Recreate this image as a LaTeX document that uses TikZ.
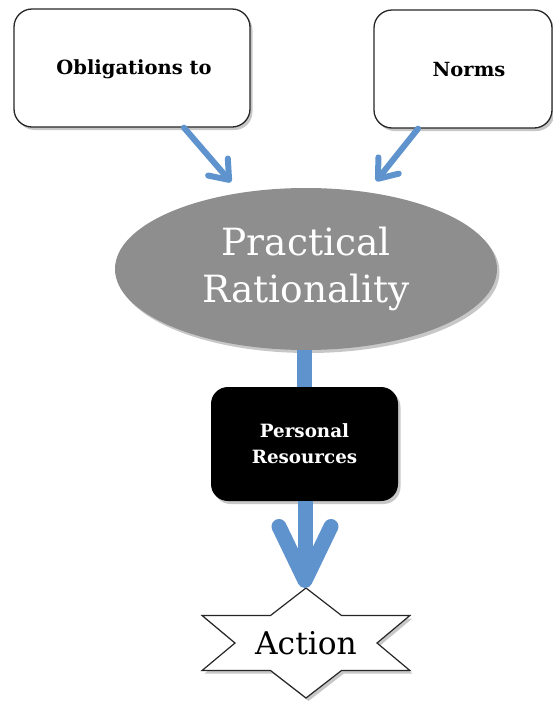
\documentclass[tikz,border=0pt]{standalone}
\usepackage{fontspec}
\setmainfont{DejaVu Serif}
\usetikzlibrary{shapes.geometric,arrows.meta,shadows}
\definecolor{flow}{HTML}{5E93CD}
\definecolor{core}{HTML}{8E8E8E}
\begin{document}
\begin{tikzpicture}[x=1pt,y=-1pt,
  softshadow/.style={drop shadow={shadow xshift=2.5pt,shadow yshift=-3pt,opacity=0.22,fill=black}},
  card/.style={draw=black!85,line width=1.3pt,rounded corners=18pt,fill=white,
    minimum height=118pt,inner sep=0pt,softshadow},
  cardtext/.style={font=\bfseries\fontsize{19.5}{23}\selectfont},
  hub/.style={ellipse,fill=core,minimum width=382pt,minimum height=162pt,inner sep=0pt,
    softshadow,text=white,align=center,font=\fontsize{37.5}{47}\selectfont},
  darkcard/.style={fill=black,rounded corners=17pt,minimum width=187pt,minimum height=114pt,
    inner sep=0pt,softshadow,text=white,align=center,
    font=\bfseries\fontsize{18.3}{26}\selectfont},
  starline/.style={draw=black!85,line width=1.2pt,fill=white,line join=miter,softshadow},
  thinflow/.style={draw=flow,line width=6pt,line cap=round,shorten >=14pt,
    -{Straight Barb[length=17pt,width=26pt,line cap=round,line join=round]}},
  stem/.style={draw=flow,line width=15pt},
  bigflow/.style={draw=flow,line width=15pt,
    -{Straight Barb[length=54pt,width=52pt,line cap=round,line join=round]}}
]
\useasboundingbox (0,0) rectangle (553,702);

% input boxes
\node[card,minimum width=236pt] (ob) at (132,68) {};
\node[cardtext] at (134,69) {Obligations to};
\node[card,minimum width=178pt] (nm) at (463,69) {};
\node[cardtext] at (469,70) {Norms};

% central ellipse
\node[hub] (pr) at (306,269) {Practical\\Rationality};

% resources box
\node[darkcard] (res) at (304.5,444) {Personal\\Resources};

% outcome star
\draw[starline] (306,588) -- (341.5,615.5) -- (409.9,615.5) -- (377,643)
  -- (409.9,670.5) -- (341.5,670.5) -- (306,698) -- (270.5,670.5)
  -- (202.1,670.5) -- (235,643) -- (202.1,615.5) -- (270.5,615.5) -- cycle;
\coordinate (acttop) at (305,588);
\node[font=\fontsize{31.3}{36}\selectfont] (act) at (306,643) {Action};

% connectors
\draw[thinflow] ([xshift=52pt]ob.south) -- (pr);
\draw[thinflow] ([xshift=-45pt]nm.south) -- (pr);
\draw[stem] (res.north |- pr.south) -- (res.north);
\draw[bigflow] (res.south -| acttop) -- (acttop);
\end{tikzpicture}
\end{document}
